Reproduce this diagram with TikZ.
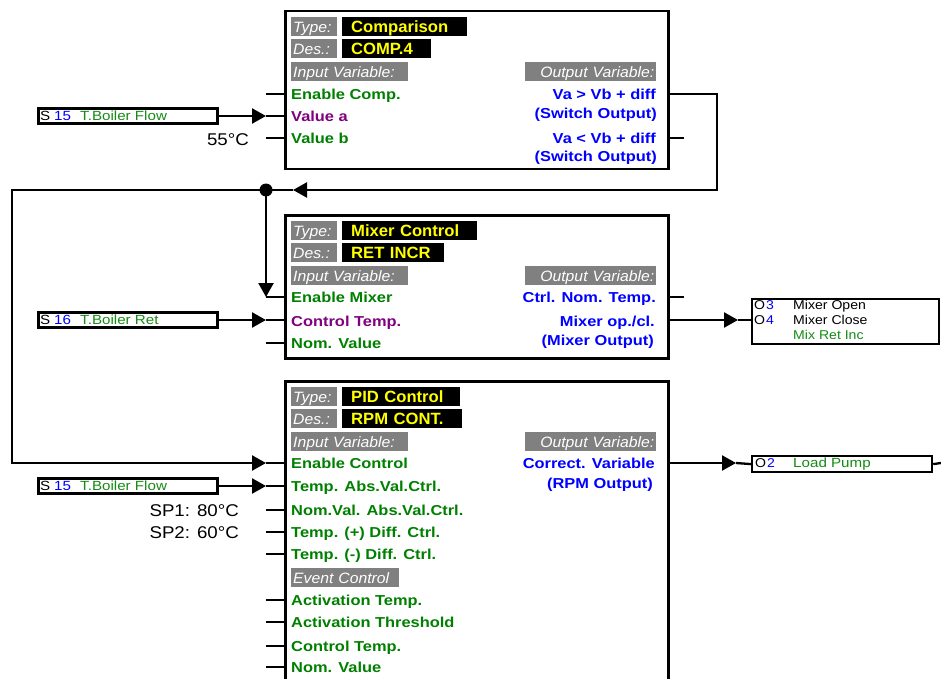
\documentclass[tikz,border=0pt]{standalone}
\usepackage{fontspec}
\setmainfont{Liberation Sans}
\newfontfamily\wfont{Liberation Sans}[FakeStretch=1.14]
\newfontfamily\yfont{Liberation Sans}[FakeStretch=1.02]
\newfontfamily\gfont{Liberation Sans}[FakeStretch=1.05]
\newfontfamily\rfont{Liberation Sans}[FakeStretch=1.1]
\usetikzlibrary{arrows.meta}
\definecolor{vgreen}{RGB}{0,128,0}
\definecolor{sgreen}{RGB}{20,140,20}
\definecolor{vpurple}{RGB}{128,0,128}
\definecolor{vblue}{RGB}{0,0,255}
\definecolor{lgray}{RGB}{128,128,128}
\definecolor{vyellow}{RGB}{255,255,0}
\begin{document}
\begin{tikzpicture}[x=1pt,y=-1pt,
  blockbox/.style={draw=black, line width=2.5pt, fill=white, anchor=north west, inner sep=0pt},
  glbl/.style={fill=lgray, text=white, font=\gfont\itshape\fontsize{15}{17}\selectfont, inner xsep=2pt, inner ysep=0pt, minimum height=19pt, text height=11pt, text depth=0pt, anchor=north west},
  blbl/.style={fill=black, text=vyellow, font=\yfont\bfseries\fontsize{16.3}{18}\selectfont, inner xsep=9pt, inner ysep=0pt, minimum height=19pt, text height=11.7pt, text depth=0pt, anchor=north west, align=left},
  inl/.style={anchor=west, inner sep=0pt, text height=10.3pt, text depth=0pt, font=\wfont\bfseries\fontsize{14.4}{16}\selectfont, text=vgreen},
  inp/.style={inl, text=vpurple},
  outl/.style={inl, anchor=east, text=vblue},
  conn/.style={draw=black, line width=2.3pt},
  arr/.style={-{Triangle[length=14pt,width=15pt]}},
  sensor/.style={draw=black, line width=2.5pt, fill=white, minimum width=179pt, minimum height=15pt, inner sep=0pt, anchor=west},
  outbox/.style={draw=black, line width=2.2pt, fill=white, inner sep=0pt, anchor=north west},
  stxt/.style={anchor=west, inner sep=0pt, text height=9.3pt, text depth=0pt, font=\wfont\fontsize{13.3}{15}\selectfont},
  otxt/.style={anchor=west, inner sep=0pt, text height=9pt, text depth=0pt, font=\rfont\fontsize{12.8}{14}\selectfont},
  valtxt/.style={anchor=east, inner sep=0pt, text height=12.2pt, text depth=0pt, font=\rfont\fontsize{17}{19}\selectfont},
]
\clip (0,0) rectangle (941,679);
\fill[white] (0,0) rectangle (941,679);

% ---------- blocks ----------
\node[blockbox, minimum width=383pt, minimum height=158pt] (b1) at (284,10) {};
\node[blockbox, minimum width=383pt, minimum height=143pt] (b2) at (284,214) {};
\node[blockbox, minimum width=383pt, minimum height=330pt] (b3) at (284,380) {};

% block 1 headers
\node[glbl, text width=42pt, align=left] (b1t) at (291,17) {Type:};
\node[blbl, text width=107pt] (b1tv) at (342,17) {Comparison};
\node[glbl, text width=42pt, align=left] (b1d) at (291,39) {Des.:};
\node[blbl, text width=71pt] (b1dv) at (342,39) {COMP.4};
\node[glbl, text width=113pt, align=left] (b1iv) at (291,62) {Input Variable:};
\node[glbl, text width=127pt, align=right] (b1ov) at (525,62) {Output Variable:};
% block 1 rows
\node[inl] (b1r1) at (291,94) {Enable Comp.};
\node[inp] (b1r2) at (291,116) {Value a};
\node[inl] (b1r3) at (291,138) {Value b};
\node[outl] (b1q1) at (656,94) {Va > Vb + diff};
\node[outl] (b1q2) at (657,113) {(Switch Output)};
\node[outl] (b1q3) at (656,138) {Va < Vb + diff};
\node[outl] (b1q4) at (657,156) {(Switch Output)};

% block 2 headers
\node[glbl, text width=42pt, align=left] (b2t) at (291,221) {Type:};
\node[blbl, text width=117pt] (b2tv) at (342,221) {Mixer Control};
\node[glbl, text width=42pt, align=left] (b2d) at (291,243) {Des.:};
\node[blbl, text width=84pt] (b2dv) at (342,243) {RET INCR};
\node[glbl, text width=113pt, align=left] (b2iv) at (291,266) {Input Variable:};
\node[glbl, text width=127pt, align=right] (b2ov) at (525,266) {Output Variable:};
\node[inl] (b2r1) at (291,297) {Enable Mixer};
\node[inp] (b2r2) at (291,321) {Control Temp.};
\node[inl] (b2r3) at (291,343) {Nom. Value};
\node[outl] (b2q1) at (656,297) {Ctrl. Nom. Temp.};
\node[outl] (b2q2) at (655,321) {Mixer op./cl.};
\node[outl] (b2q3) at (654,340) {(Mixer Output)};

% block 3 headers
\node[glbl, text width=42pt, align=left] (b3t) at (291,387) {Type:};
\node[blbl, text width=100pt] (b3tv) at (342,387) {PID Control};
\node[glbl, text width=42pt, align=left] (b3d) at (291,409) {Des.:};
\node[blbl, text width=102pt] (b3dv) at (342,409) {RPM CONT.};
\node[glbl, text width=113pt, align=left] (b3iv) at (291,432) {Input Variable:};
\node[glbl, text width=127pt, align=right] (b3ov) at (525,432) {Output Variable:};
\node[inl] (b3r1) at (291,463) {Enable Control};
\node[inl] (b3r2) at (291,486) {Temp. Abs.Val.Ctrl.};
\node[inl] (b3r3) at (291,510) {Nom.Val. Abs.Val.Ctrl.};
\node[inl] (b3r4) at (291,532) {Temp. (+) Diff. Ctrl.};
\node[inl] (b3r5) at (291,554) {Temp. (-) Diff. Ctrl.};
\node[glbl, text width=104pt, align=left] (b3ev) at (291,568) {Event Control};
\node[inl] (b3r6) at (291,600) {Activation Temp.};
\node[inl] (b3r7) at (291,622) {Activation Threshold};
\node[inl] (b3r8) at (291,646) {Control Temp.};
\node[inl] (b3r9) at (291,667) {Nom. Value};
\node[outl] (b3q1) at (655,463) {Correct. Variable};
\node[outl] (b3q2) at (653,483) {(RPM Output)};

% ---------- sensors ----------
\node[sensor] (s1) at (37,116) {};
\node[stxt] (s1a) at (40,116) {S};
\node[stxt, text=vblue] (s1b) at (54,116) {15};
\node[stxt, text=sgreen] (s1c) at (80,116) {T.Boiler Flow};
\node[sensor] (s2) at (37,320) {};
\node[stxt] (s2a) at (40,320) {S};
\node[stxt, text=vblue] (s2b) at (54,320) {16};
\node[stxt, text=sgreen] (s2c) at (80,320) {T.Boiler Ret};
\node[sensor] (s3) at (37,486) {};
\node[stxt] (s3a) at (40,486) {S};
\node[stxt, text=vblue] (s3b) at (54,486) {15};
\node[stxt, text=sgreen] (s3c) at (80,486) {T.Boiler Flow};

% fixed values
\node[valtxt] (v1) at (249,139) {55°C};
\node[valtxt] (v2) at (239,510) {SP1: 80°C};
\node[valtxt] (v3) at (239,532) {SP2: 60°C};

% ---------- output boxes ----------
\node[outbox, minimum width=187pt, minimum height=45pt] (o1) at (751,298) {};
\node[otxt] (o1a) at (754,305) {O};
\node[otxt, text=vblue] (o1b) at (766,305) {3};
\node[otxt] (o1c) at (793,305) {Mixer Open};
\node[otxt] (o1d) at (754,320) {O};
\node[otxt, text=vblue] (o1e) at (766,320) {4};
\node[otxt] (o1f) at (793,320) {Mixer Close};
\node[otxt, text=sgreen] (o1g) at (793,335) {Mix Ret Inc};
\node[outbox, minimum width=180pt, minimum height=16pt] (o2) at (751,455) {};
\node[otxt] (o2a) at (755,463) {O};
\node[otxt, text=vblue] (o2b) at (767,463) {2};
\node[stxt, text=sgreen] (o2c) at (793,463) {Load Pump};

% ---------- pins ----------
\foreach \y in {94,116,138,297,320,343,463,486,510,532,554,600,622,646,667}{
  \coordinate (pl\y) at (266,\y);
  \coordinate (pr\y) at (284,\y);
  \draw[conn] (pl\y) -- (pr\y);
}
\foreach \y in {94,138,297,320,463}{
  \coordinate (ql\y) at (667,\y);
  \coordinate (qr\y) at (684,\y);
}
\draw[conn] (ql138) -- (qr138);
\draw[conn] (ql297) -- (qr297);

% ---------- connectors ----------
\draw[conn, arr] (s1.east) -- (pl116);
\draw[conn, arr] (s2.east) -- (pl320);
\draw[conn, arr] (s3.east) -- (pl486);

\coordinate (c1) at (717,94);
\coordinate (c2) at (717,190);
\coordinate (ltip) at (293,190);
\coordinate (c3) at (12,190);
\coordinate (c4) at (12,463);
\draw[conn, arr, line join=miter] (ql94) -- (c1) -- (c2) -- (ltip);
\draw[conn, arr, line join=miter] (ltip) -- (c3) -- (c4) -- (pl463);
\node[circle, fill=black, inner sep=0pt, minimum size=13pt] (dot) at (266,190) {};
\draw[conn, arr] (dot.center) -- (pl297);

\coordinate (m1) at (738,320);
\draw[conn, arr] (ql320) -- (m1);
\draw[conn] (m1) -- (o1.west |- m1);
\coordinate (m2) at (736,463);
\draw[conn, arr] (ql463) -- (m2);
\draw[conn] (m2) -- (o2.west);
\coordinate (oe) at (941,463);
\draw[conn] (o2.east) -- (oe);
\end{tikzpicture}
\end{document}
